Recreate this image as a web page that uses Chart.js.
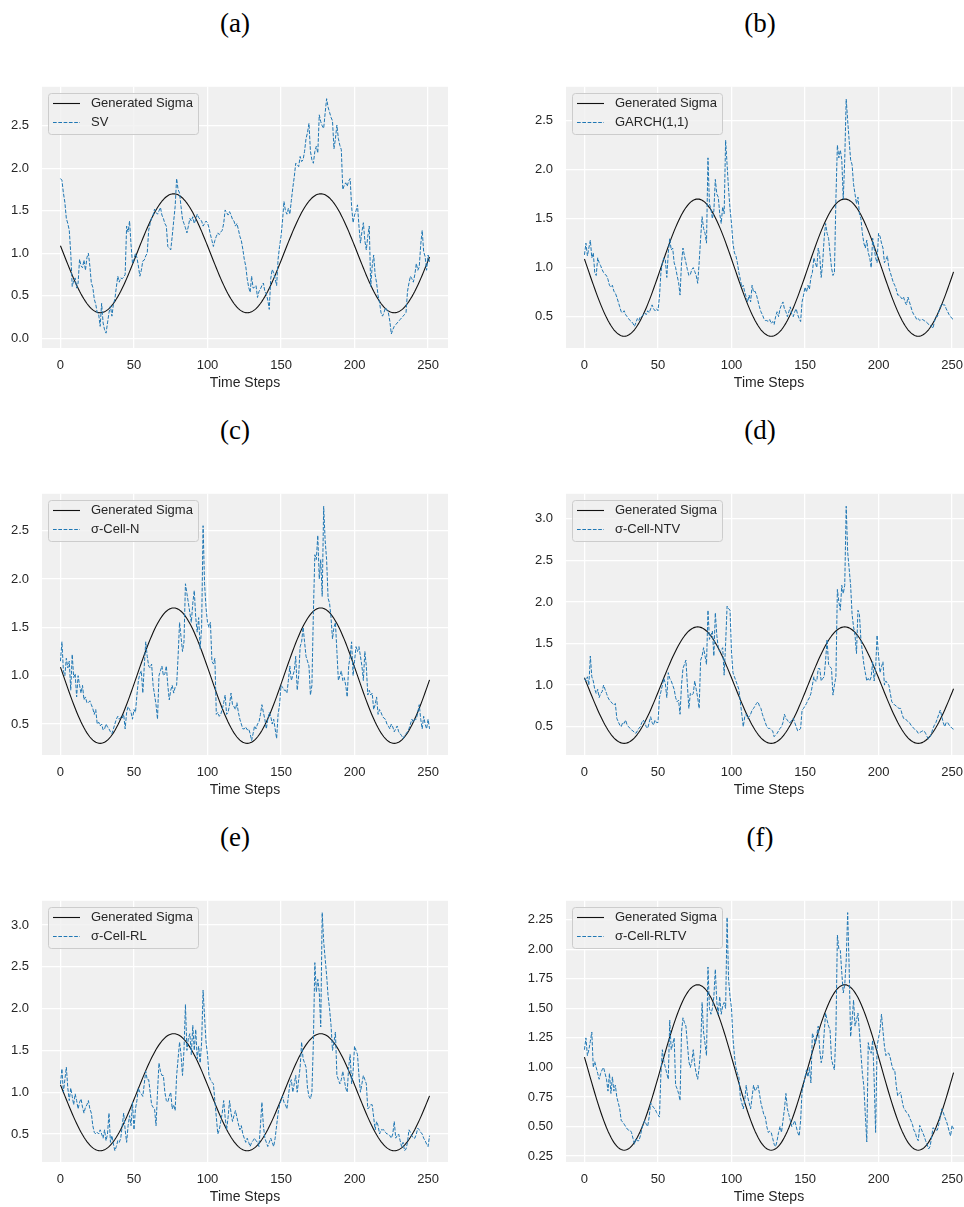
<!DOCTYPE html>
<html>
<head>
<meta charset="utf-8">
<script src="https://cdn.jsdelivr.net/npm/chart.js@4.4.1/dist/chart.umd.min.js"></script>
<style>
  html, body { margin: 0; padding: 0; width: 964px; height: 1207px; overflow: hidden; background: #ffffff; }
  .panel-title {
    position: absolute; width: 120px; margin-left: -60px; text-align: center;
    font-family: "Liberation Serif", "DejaVu Serif", serif; font-size: 27px; line-height: 32px; color: #000;
  }
  canvas { position: absolute; }
</style>
</head>
<body>
<script>
// ---- data -------------------------------------------------------------
const timeSteps = Array.from({ length: 252 }, (_, i) => i);
const xTicks = [0, 50, 100, 150, 200, 250];

// true volatility path shared by every panel
const generatedSigma = [
  1.088, 1.044, 1.000, 0.956, 0.912, 0.869, 0.826, 0.784, 0.742, 0.702,
  0.663, 0.625, 0.589, 0.554, 0.521, 0.490, 0.461, 0.434, 0.409, 0.387,
  0.366, 0.349, 0.334, 0.322, 0.312, 0.306, 0.301, 0.300, 0.301, 0.306,
  0.312, 0.322, 0.334, 0.349, 0.366, 0.387, 0.409, 0.434, 0.461, 0.490,
  0.521, 0.554, 0.589, 0.625, 0.663, 0.702, 0.742, 0.784, 0.826, 0.869,
  0.912, 0.956, 1.000, 1.044, 1.088, 1.131, 1.174, 1.216, 1.258, 1.298,
  1.337, 1.375, 1.411, 1.446, 1.479, 1.510, 1.539, 1.566, 1.591, 1.613,
  1.633, 1.651, 1.666, 1.678, 1.688, 1.694, 1.699, 1.700, 1.699, 1.694,
  1.688, 1.678, 1.666, 1.651, 1.633, 1.613, 1.591, 1.566, 1.539, 1.510,
  1.479, 1.446, 1.411, 1.375, 1.337, 1.298, 1.258, 1.216, 1.174, 1.131,
  1.088, 1.044, 1.000, 0.956, 0.912, 0.869, 0.826, 0.784, 0.742, 0.702,
  0.663, 0.625, 0.589, 0.554, 0.521, 0.490, 0.461, 0.434, 0.409, 0.387,
  0.366, 0.349, 0.334, 0.322, 0.312, 0.306, 0.301, 0.300, 0.301, 0.306,
  0.312, 0.322, 0.334, 0.349, 0.366, 0.387, 0.409, 0.434, 0.461, 0.490,
  0.521, 0.554, 0.589, 0.625, 0.663, 0.702, 0.742, 0.784, 0.826, 0.869,
  0.912, 0.956, 1.000, 1.044, 1.088, 1.131, 1.174, 1.216, 1.258, 1.298,
  1.337, 1.375, 1.411, 1.446, 1.479, 1.510, 1.539, 1.566, 1.591, 1.613,
  1.633, 1.651, 1.666, 1.678, 1.688, 1.694, 1.699, 1.700, 1.699, 1.694,
  1.688, 1.678, 1.666, 1.651, 1.633, 1.613, 1.591, 1.566, 1.539, 1.510,
  1.479, 1.446, 1.411, 1.375, 1.337, 1.298, 1.258, 1.216, 1.174, 1.131,
  1.088, 1.044, 1.000, 0.956, 0.912, 0.869, 0.826, 0.784, 0.742, 0.702,
  0.663, 0.625, 0.589, 0.554, 0.521, 0.490, 0.461, 0.434, 0.409, 0.387,
  0.366, 0.349, 0.334, 0.322, 0.312, 0.306, 0.301, 0.300, 0.301, 0.306,
  0.312, 0.322, 0.334, 0.349, 0.366, 0.387, 0.409, 0.434, 0.461, 0.490,
  0.521, 0.554, 0.589, 0.625, 0.663, 0.702, 0.742, 0.784, 0.826, 0.869,
  0.912, 0.956
];

const svSigma = [
  1.88, 1.86, 1.71, 1.60, 1.41, 1.35, 1.27, 1.00, 0.61, 0.68,
  0.71, 0.59, 0.65, 0.93, 0.85, 0.83, 0.92, 0.80, 0.95, 1.00,
  0.85, 0.65, 0.60, 0.46, 0.40, 0.30, 0.28, 0.14, 0.41, 0.18,
  0.10, 0.06, 0.18, 0.30, 0.38, 0.26, 0.40, 0.46, 0.60, 0.73,
  0.66, 0.71, 0.70, 0.72, 0.75, 1.32, 1.25, 1.38, 1.10, 0.88,
  0.93, 1.00, 0.95, 0.85, 0.73, 0.80, 0.91, 0.92, 0.97, 1.00,
  1.27, 1.35, 1.42, 1.45, 1.52, 1.48, 1.46, 1.50, 1.54, 1.45,
  1.41, 1.35, 1.32, 1.08, 1.06, 1.04, 1.20, 1.38, 1.55, 1.88,
  1.75, 1.71, 1.55, 1.40, 1.35, 1.30, 1.24, 1.32, 1.41, 1.38,
  1.43, 1.35, 1.40, 1.46, 1.42, 1.40, 1.38, 1.32, 1.35, 1.38,
  1.36, 1.30, 1.22, 1.15, 1.08, 1.15, 1.20, 1.24, 1.22, 1.25,
  1.27, 1.35, 1.51, 1.48, 1.45, 1.49, 1.45, 1.40, 1.38, 1.32,
  1.35, 1.28, 1.20, 1.15, 1.05, 0.93, 0.85, 0.70, 0.60, 0.54,
  0.73, 0.59, 0.60, 0.62, 0.48, 0.55, 0.58, 0.62, 0.65, 0.55,
  0.52, 0.45, 0.34, 0.70, 0.81, 0.77, 0.70, 0.62, 0.93, 1.08,
  1.20, 1.38, 1.61, 1.50, 1.46, 1.53, 1.46, 1.62, 1.77, 1.90,
  2.06, 2.04, 2.02, 2.14, 2.08, 2.10, 2.20, 2.35, 2.42, 2.53,
  2.20, 2.10, 2.06, 2.20, 2.26, 2.18, 2.63, 2.55, 2.50, 2.47,
  2.65, 2.82, 2.72, 2.66, 2.60, 2.56, 2.23, 2.35, 2.51, 2.35,
  2.27, 2.22, 1.75, 1.80, 1.83, 1.79, 1.85, 1.88, 1.55, 1.36,
  1.45, 1.50, 1.57, 1.32, 1.12, 1.25, 1.36, 1.15, 1.04, 1.20,
  1.32, 0.61, 0.85, 0.98, 0.75, 0.65, 0.50, 0.42, 0.30, 0.26,
  0.30, 0.36, 0.33, 0.30, 0.20, 0.05, 0.10, 0.14, 0.16, 0.18,
  0.20, 0.22, 0.24, 0.26, 0.28, 0.30, 0.55, 0.65, 0.73, 0.70,
  0.66, 0.75, 0.88, 0.80, 0.84, 1.10, 1.27, 1.02, 0.96, 0.80,
  0.98, 0.90
];

const garchSigma = [
  1.13, 1.25, 1.12, 1.20, 1.28, 1.10, 1.15, 0.95, 0.92, 1.10,
  1.05, 1.02, 0.98, 0.95, 0.93, 0.92, 0.88, 0.82, 0.80, 0.82,
  0.76, 0.74, 0.70, 0.65, 0.60, 0.55, 0.54, 0.56, 0.52, 0.50,
  0.48, 0.46, 0.45, 0.43, 0.40, 0.44, 0.48, 0.46, 0.50, 0.50,
  0.52, 0.54, 0.52, 0.56, 0.54, 0.58, 0.62, 0.58, 0.56, 0.58,
  0.56, 0.70, 0.95, 1.05, 1.10, 1.08, 0.90, 1.15, 1.30, 1.18,
  1.20, 1.05, 1.00, 0.92, 0.85, 0.72, 1.05, 1.20, 1.12, 1.05,
  0.98, 0.92, 0.93, 0.98, 1.00, 0.96, 0.92, 0.84, 1.05, 1.30,
  1.52, 1.40, 1.35, 1.25, 2.12, 1.65, 1.60, 1.50, 1.58, 1.90,
  1.75, 1.72, 1.55, 1.45, 1.62, 1.55, 2.30, 2.05, 1.80, 1.60,
  1.45, 1.25, 1.15, 1.12, 1.05, 0.95, 0.88, 0.80, 0.82, 0.75,
  0.70, 0.65, 0.72, 0.65, 0.82, 0.75, 0.76, 0.72, 0.66, 0.60,
  0.55, 0.52, 0.48, 0.46, 0.46, 0.45, 0.47, 0.43, 0.45, 0.42,
  0.50, 0.55, 0.50, 0.58, 0.62, 0.65, 0.58, 0.55, 0.50, 0.55,
  0.60, 0.52, 0.50, 0.55, 0.58, 0.52, 0.48, 0.45, 0.65, 0.72,
  0.80, 0.75, 0.82, 0.78, 0.90, 0.95, 1.10, 1.05, 1.00, 1.20,
  1.12, 0.90, 1.05, 1.30, 1.45, 1.35, 1.30, 1.15, 1.00, 0.92,
  0.95, 1.70, 2.25, 2.12, 2.20, 2.10, 1.70, 2.10, 2.72, 2.50,
  2.30, 2.10, 2.05, 1.85, 1.75, 1.65, 1.72, 1.55, 1.50, 1.35,
  1.25, 1.20, 1.28, 1.15, 1.10, 1.00, 1.30, 1.20, 1.10, 1.05,
  1.35, 1.32, 1.25, 1.20, 1.05, 1.08, 1.12, 1.00, 0.95, 0.90,
  0.85, 0.82, 0.78, 0.72, 0.72, 0.70, 0.68, 0.70, 0.65, 0.62,
  0.70, 0.65, 0.60, 0.55, 0.52, 0.50, 0.47, 0.48, 0.46, 0.47,
  0.47, 0.46, 0.45, 0.44, 0.42, 0.42, 0.40, 0.38, 0.45, 0.50,
  0.50, 0.55, 0.60, 0.63, 0.62, 0.62, 0.58, 0.55, 0.52, 0.50,
  0.48, 0.47
];

const cellNSigma = [
  1.15, 1.35, 1.05, 1.00, 1.18, 1.08, 1.15, 0.85, 1.22, 0.98,
  1.02, 0.78, 1.00, 0.90, 0.82, 0.90, 0.75, 0.78, 0.72, 0.72,
  0.74, 0.70, 0.66, 0.60, 0.65, 0.50, 0.52, 0.48, 0.50, 0.44,
  0.45, 0.50, 0.47, 0.45, 0.42, 0.40, 0.45, 0.50, 0.55, 0.58,
  0.55, 0.57, 0.56, 0.60, 0.45, 0.62, 0.68, 0.65, 0.62, 0.55,
  0.65, 0.62, 0.80, 0.95, 1.02, 1.05, 0.82, 1.10, 1.35, 1.20,
  1.10, 1.08, 1.12, 0.90, 0.80, 0.70, 0.55, 1.00, 1.05, 1.10,
  1.00, 1.02, 1.10, 0.90, 0.75, 0.85, 0.90, 0.82, 0.88, 0.90,
  1.20, 1.55, 1.40, 1.25, 1.35, 1.95, 1.85, 1.75, 1.65, 1.55,
  1.75, 1.88, 1.60, 1.45, 1.60, 1.28, 1.50, 2.55, 1.95, 1.70,
  1.55, 1.50, 1.55, 1.15, 1.12, 1.18, 0.60, 0.62, 0.58, 0.60,
  0.65, 0.72, 0.80, 0.60, 0.62, 0.70, 0.82, 0.70, 0.68, 0.65,
  0.72, 0.62, 0.55, 0.50, 0.45, 0.45, 0.47, 0.44, 0.45, 0.40,
  0.33, 0.40, 0.48, 0.45, 0.50, 0.52, 0.60, 0.70, 0.62, 0.55,
  0.45, 0.55, 0.62, 0.58, 0.50, 0.55, 0.45, 0.35, 0.60, 0.70,
  0.90, 0.88, 0.85, 0.85, 0.82, 0.95, 1.10, 0.95, 1.00, 1.05,
  1.20, 0.85, 1.00, 1.30, 1.35, 1.50, 1.35, 1.20, 1.15, 1.10,
  0.80, 0.90, 1.65, 2.25, 2.20, 2.45, 2.00, 2.20, 1.82, 2.75,
  2.40, 2.20, 1.80, 1.75, 1.60, 1.38, 1.50, 1.55, 1.25, 0.95,
  1.00, 1.05, 0.95, 0.98, 0.90, 0.78, 1.10, 1.20, 1.35, 1.00,
  1.15, 1.30, 1.25, 1.30, 1.20, 1.10, 0.95, 1.25, 1.10, 0.80,
  0.85, 0.80, 0.82, 0.65, 0.70, 0.78, 0.60, 0.65, 0.62, 0.58,
  0.56, 0.55, 0.50, 0.48, 0.45, 0.50, 0.47, 0.42, 0.45, 0.48,
  0.42, 0.40, 0.38, 0.35, 0.38, 0.40, 0.42, 0.45, 0.50, 0.55,
  0.52, 0.55, 0.55, 0.62, 0.70, 0.55, 0.45, 0.58, 0.50, 0.45,
  0.55, 0.45
];

const cellNTVSigma = [
  1.08, 1.05, 1.10, 1.00, 1.35, 1.10, 1.05, 0.95, 0.90, 0.95,
  0.85, 0.90, 0.92, 1.00, 0.95, 0.90, 0.85, 0.82, 0.80, 0.78,
  0.76, 0.78, 0.60, 0.56, 0.52, 0.50, 0.55, 0.54, 0.58, 0.52,
  0.50, 0.48, 0.46, 0.45, 0.43, 0.42, 0.45, 0.48, 0.50, 0.55,
  0.58, 0.55, 0.50, 0.48, 0.55, 0.62, 0.55, 0.52, 0.58, 0.55,
  0.55, 0.85, 0.92, 1.00, 1.08, 1.02, 0.85, 1.15, 1.08, 1.05,
  1.00, 0.95, 0.85, 0.80, 0.82, 0.65, 1.00, 1.20, 1.25, 1.30,
  1.00, 0.72, 0.90, 0.88, 0.90, 1.05, 0.95, 0.85, 0.72, 1.30,
  1.35, 1.45, 1.35, 1.25, 1.90, 1.55, 1.60, 1.65, 1.35, 1.87,
  1.60, 1.45, 1.40, 1.42, 1.45, 1.12, 1.50, 1.95, 1.92, 1.90,
  1.40, 1.15, 1.10, 1.05, 1.00, 0.95, 0.80, 0.65, 0.50, 0.62,
  0.65, 0.60, 0.62, 0.65, 0.70, 0.72, 0.75, 0.78, 0.80, 0.75,
  0.72, 0.65, 0.60, 0.55, 0.50, 0.48, 0.48, 0.46, 0.45, 0.38,
  0.40, 0.42, 0.45, 0.48, 0.50, 0.55, 0.65, 0.60, 0.58, 0.55,
  0.55, 0.58, 0.60, 0.55, 0.50, 0.45, 0.46, 0.48, 0.70, 0.72,
  0.75, 0.78, 0.82, 0.85, 0.90, 1.00, 1.10, 1.05, 1.05, 1.20,
  1.20, 1.05, 1.08, 1.10, 1.30, 1.55, 1.25, 1.22, 1.20, 0.88,
  1.00, 1.10, 2.15, 2.00, 1.90, 2.20, 2.10, 2.20, 3.15, 2.60,
  2.40, 2.20, 1.85, 1.70, 1.60, 1.38, 1.90, 1.85, 1.55, 1.40,
  1.25, 1.15, 1.05, 1.08, 1.05, 1.10, 1.28, 1.05, 1.20, 1.60,
  1.35, 1.15, 1.22, 1.28, 1.00, 1.05, 1.02, 1.00, 0.90, 0.80,
  0.78, 0.76, 0.75, 0.73, 0.72, 0.72, 0.65, 0.60, 0.60, 0.58,
  0.56, 0.55, 0.52, 0.50, 0.48, 0.46, 0.45, 0.42, 0.43, 0.44,
  0.45, 0.45, 0.42, 0.38, 0.35, 0.38, 0.42, 0.48, 0.52, 0.55,
  0.60, 0.65, 0.70, 0.62, 0.55, 0.50, 0.55, 0.55, 0.52, 0.50,
  0.48, 0.47
];

const cellRLSigma = [
  1.10, 1.28, 1.00, 1.15, 1.30, 1.05, 0.90, 1.05, 0.95, 0.85,
  0.98, 0.90, 0.80, 0.88, 0.92, 0.82, 0.75, 0.82, 0.85, 0.90,
  0.80, 0.75, 0.60, 0.52, 0.50, 0.52, 0.50, 0.55, 0.50, 0.45,
  0.55, 0.42, 0.50, 0.75, 0.40, 0.48, 0.38, 0.30, 0.35, 0.42,
  0.40, 0.45, 0.60, 0.75, 0.55, 0.40, 0.60, 0.72, 0.60, 0.88,
  0.55, 0.80, 0.90, 1.05, 1.00, 0.98, 0.95, 1.10, 1.25, 1.15,
  1.15, 1.00, 0.85, 0.82, 0.80, 0.60, 1.00, 1.35, 1.25, 1.20,
  1.20, 1.00, 0.90, 0.88, 0.95, 1.00, 0.80, 0.85, 0.78, 1.20,
  1.40, 1.60, 1.45, 1.20, 1.50, 2.05, 1.50, 1.65, 1.70, 1.45,
  1.80, 1.50, 1.75, 1.40, 1.55, 1.35, 1.60, 2.22, 1.90, 1.60,
  1.45, 1.20, 1.15, 1.12, 1.10, 0.90, 0.70, 0.50, 0.55, 0.65,
  0.75, 0.90, 0.70, 0.55, 0.70, 0.90, 0.75, 0.65, 0.72, 0.78,
  0.70, 0.62, 0.55, 0.60, 0.50, 0.45, 0.40, 0.45, 0.40, 0.35,
  0.40, 0.42, 0.45, 0.42, 0.40, 0.35, 0.60, 0.88, 0.60, 0.45,
  0.40, 0.35, 0.40, 0.45, 0.40, 0.35, 0.45, 0.60, 0.75, 0.85,
  0.90, 0.95, 0.88, 0.85, 0.80, 0.95, 1.10, 1.15, 1.00, 1.10,
  1.20, 1.00, 1.15, 1.30, 1.60, 1.40, 1.35, 1.30, 1.05, 0.95,
  0.92, 1.00, 1.60, 2.55, 2.20, 2.35, 2.20, 1.78, 3.15, 2.80,
  2.60, 2.40, 2.15, 2.00, 1.80, 1.50, 1.60, 1.72, 1.20, 1.15,
  1.10, 1.15, 1.25, 1.15, 1.05, 1.00, 1.30, 1.45, 1.10, 1.25,
  1.55, 1.50, 1.45, 1.20, 1.00, 1.10, 1.20, 1.15, 1.10, 0.80,
  0.82, 0.85, 0.85, 0.70, 0.55, 0.65, 0.60, 0.50, 0.55, 0.55,
  0.55, 0.52, 0.50, 0.50, 0.48, 0.45, 0.50, 0.65, 0.45, 0.48,
  0.50, 0.42, 0.35, 0.40, 0.30, 0.32, 0.40, 0.55, 0.52, 0.48,
  0.45, 0.45, 0.50, 0.57, 0.55, 0.52, 0.50, 0.45, 0.42, 0.38,
  0.35, 0.48
];

const cellRLTVSigma = [
  1.15, 1.25, 1.10, 1.15, 1.22, 1.30, 1.00, 1.05, 1.00, 0.95,
  0.90, 0.95, 0.98, 1.00, 0.95, 0.90, 0.80, 0.95, 0.78, 0.92,
  0.80, 0.85, 0.75, 0.70, 0.65, 0.55, 0.54, 0.52, 0.50, 0.48,
  0.47, 0.47, 0.45, 0.40, 0.35, 0.40, 0.38, 0.38, 0.42, 0.48,
  0.52, 0.55, 0.52, 0.50, 0.58, 0.70, 0.68, 0.66, 0.65, 0.62,
  0.60, 0.58, 0.95, 1.15, 1.05, 1.00, 0.95, 0.90, 1.40, 1.15,
  1.20, 1.25, 0.85, 0.82, 0.78, 0.72, 1.30, 1.42, 1.38, 1.35,
  1.20, 1.05, 1.00, 1.05, 1.15, 1.02, 0.95, 0.90, 1.00, 1.15,
  1.55, 1.30, 1.20, 1.10, 1.85, 1.50, 1.45, 1.50, 1.60, 1.83,
  1.55, 1.45, 1.60, 1.45, 1.52, 1.55, 1.50, 2.27, 1.75, 1.60,
  1.50, 1.25, 1.10, 1.00, 0.95, 0.92, 0.75, 0.70, 0.65, 0.72,
  0.85, 0.75, 0.70, 0.65, 0.75, 0.85, 0.80, 0.82, 0.85, 0.78,
  0.70, 0.65, 0.60, 0.58, 0.50, 0.45, 0.46, 0.45, 0.40, 0.35,
  0.33, 0.38, 0.45, 0.50, 0.45, 0.55, 0.65, 0.78, 0.65, 0.60,
  0.55, 0.50, 0.52, 0.55, 0.50, 0.45, 0.42, 0.55, 0.80, 0.85,
  0.92, 0.98, 0.92, 1.00, 0.87, 1.29, 1.25, 1.20, 1.28, 1.35,
  1.15, 1.04, 1.10, 1.29, 1.46, 1.40, 1.35, 1.32, 1.07, 1.02,
  0.98, 1.30, 2.12, 2.00, 1.99, 1.80, 1.63, 1.70, 1.90, 2.31,
  1.85, 1.26, 1.40, 1.57, 1.35, 1.40, 1.46, 1.30, 1.12, 0.95,
  0.84, 0.60, 0.37, 1.21, 1.15, 1.12, 1.23, 0.90, 0.45, 1.18,
  1.25, 1.32, 1.45, 1.31, 1.18, 1.10, 1.12, 1.12, 1.08, 1.02,
  0.98, 0.98, 0.85, 0.76, 0.78, 0.79, 0.72, 0.66, 0.64, 0.62,
  0.61, 0.58, 0.55, 0.52, 0.47, 0.45, 0.40, 0.38, 0.51, 0.48,
  0.45, 0.42, 0.38, 0.35, 0.31, 0.33, 0.40, 0.49, 0.48, 0.47,
  0.47, 0.52, 0.58, 0.65, 0.62, 0.58, 0.55, 0.51, 0.46, 0.42,
  0.51, 0.48
];

const panelTitles = ['(a)', '(b)', '(c)', '(d)', '(e)', '(f)'];
const modelNames = ['SV', 'GARCH(1,1)', 'σ-Cell-N', 'σ-Cell-NTV', 'σ-Cell-RL', 'σ-Cell-RLTV'];
const modelSeries = [svSigma, garchSigma, cellNSigma, cellNTVSigma, cellRLSigma, cellRLTVSigma];

const yTicksA = [0, 0.5, 1, 1.5, 2, 2.5];
const yTicksB = [0.5, 1, 1.5, 2, 2.5];
const yTicksC = [0.5, 1, 1.5, 2, 2.5];
const yTicksD = [0.5, 1, 1.5, 2, 2.5, 3];
const yTicksE = [0.5, 1, 1.5, 2, 2.5, 3];
const yTicksF = [0.25, 0.5, 0.75, 1, 1.25, 1.5, 1.75, 2, 2.25];
const yTickSets = [yTicksA, yTicksB, yTicksC, yTicksD, yTicksE, yTicksF];
const yDecimals = [1, 1, 1, 1, 1, 2];
const yLimits = [[-0.115, 2.96], [0.18, 2.845], [0.18, 2.88], [0.16, 3.30], [0.165, 3.29], [0.20, 2.41]];
const xLimits = [-12.55, 263.55];

// ---- layout -----------------------------------------------------------
const AXIS_W = 42, AXIS_H = 44, PAD_TOP = 20, PAD_RIGHT = 10;
const PLOT_W = 406, PLOT_H = 262;
const colLeft = [0, 524];          // canvas left per column
const rowTop = [66, 473, 880];     // canvas top per row
const titleCenterX = [235, 760];
const titleCenterY = [23, 430, 837];

const TEXT = '#262626';
const SANS = '"Liberation Sans", Arial, Helvetica, sans-serif';

const plotBackground = {
  id: 'plotBackground',
  beforeDraw(chart) {
    const { ctx, chartArea: a } = chart;
    ctx.save();
    ctx.fillStyle = '#f0f0f0';
    ctx.fillRect(a.left, a.top, a.right - a.left, a.bottom - a.top);
    ctx.restore();
  }
};

// framed legend in the upper-left corner of the plot area
const insetLegend = {
  id: 'insetLegend',
  afterDatasetsDraw(chart) {
    const { ctx, chartArea: a } = chart;
    const sets = chart.data.datasets;
    ctx.save();
    ctx.font = '13px ' + SANS;
    const textW = Math.max(...sets.map(d => ctx.measureText(d.label).width));
    const x = a.left + 6, y = a.top + 6, w = 43 + textW + 5, h = 41;
    ctx.beginPath();
    ctx.roundRect(Math.round(x) + 0.5, Math.round(y) + 0.5, Math.round(w), h, 3);
    ctx.fillStyle = 'rgba(240,240,240,0.8)';
    ctx.fill();
    ctx.strokeStyle = '#cccccc';
    ctx.lineWidth = 1;
    ctx.stroke();
    ctx.textBaseline = 'middle';
    sets.forEach((ds, i) => {
      const cy = y + 10.7 + i * 19;
      ctx.beginPath();
      ctx.setLineDash(ds.borderDash || []);
      ctx.strokeStyle = ds.borderColor;
      ctx.lineWidth = ds.borderWidth;
      ctx.moveTo(x + 5, cy);
      ctx.lineTo(x + 32, cy);
      ctx.stroke();
      ctx.setLineDash([]);
      ctx.fillStyle = TEXT;
      ctx.fillText(ds.label, x + 43, cy);
    });
    ctx.restore();
  }
};

function makePanel(i) {
  const col = i % 2, row = Math.floor(i / 2);

  const title = document.createElement('div');
  title.className = 'panel-title';
  title.textContent = panelTitles[i];
  title.style.left = titleCenterX[col] + 'px';
  title.style.top = (titleCenterY[row] - 16) + 'px';
  document.body.appendChild(title);

  const canvas = document.createElement('canvas');
  const cw = AXIS_W + PLOT_W + PAD_RIGHT, ch = PAD_TOP + PLOT_H + AXIS_H;
  canvas.width = cw; canvas.height = ch;
  canvas.style.width = cw + 'px'; canvas.style.height = ch + 'px';
  canvas.style.left = colLeft[col] + 'px';
  canvas.style.top = rowTop[row] + 'px';
  document.body.appendChild(canvas);

  const yTicks = yTickSets[i], dec = yDecimals[i];

  new Chart(canvas, {
    type: 'line',
    data: {
      labels: timeSteps,
      datasets: [
        {
          label: 'Generated Sigma', data: generatedSigma,
          borderColor: '#111111', borderWidth: 1.1, pointRadius: 0,
          borderJoinStyle: 'round', order: 2
        },
        {
          label: modelNames[i], data: modelSeries[i],
          borderColor: '#1f77b4', borderWidth: 1, borderDash: [3.7, 1.6],
          pointRadius: 0, borderJoinStyle: 'round', order: 1
        }
      ]
    },
    options: {
      responsive: false, animation: false, devicePixelRatio: 1,
      layout: { padding: { top: PAD_TOP, right: PAD_RIGHT, bottom: 0, left: 0 } },
      plugins: { legend: { display: false }, tooltip: { enabled: false } },
      scales: {
        x: {
          type: 'linear', min: xLimits[0], max: xLimits[1],
          afterBuildTicks: s => { s.ticks = xTicks.map(v => ({ value: v })); },
          afterFit: s => { s.height = AXIS_H; },
          grid: { color: '#ffffff', lineWidth: 1.3, drawTicks: false },
          border: { display: false },
          ticks: {
            padding: 10, color: TEXT, autoSkip: false, maxRotation: 0,
            font: { family: SANS, size: 13 },
            callback: v => String(v)
          },
          title: {
            display: true, text: 'Time Steps', color: TEXT,
            font: { family: SANS, size: 14 }, padding: { top: 0, bottom: 0 }
          }
        },
        y: {
          type: 'linear', min: yLimits[i][0], max: yLimits[i][1],
          afterBuildTicks: s => { s.ticks = yTicks.map(v => ({ value: v })); },
          afterFit: s => { s.width = AXIS_W; },
          grid: { color: '#ffffff', lineWidth: 1.3, drawTicks: false },
          border: { display: false },
          ticks: {
            padding: 13, color: TEXT, autoSkip: false,
            font: { family: SANS, size: 13 },
            callback: v => Number(v).toFixed(dec)
          }
        }
      }
    },
    plugins: [plotBackground, insetLegend]
  });
}

for (let i = 0; i < 6; i++) makePanel(i);
</script>
</body>
</html>
